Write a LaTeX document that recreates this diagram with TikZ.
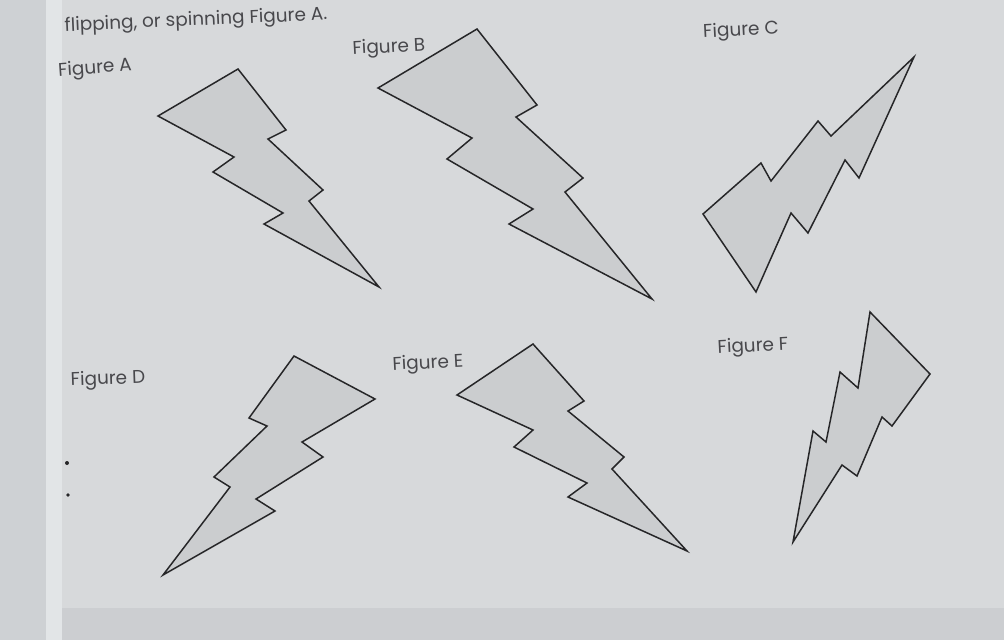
\documentclass[tikz,border=0pt]{standalone}
\usepackage{fontspec}
\setmainfont{Poppins}
\definecolor{paper}{RGB}{215,217,219}
\definecolor{binding}{RGB}{206,209,212}
\definecolor{crease}{RGB}{226,229,231}
\definecolor{bottomtone}{RGB}{204,206,209}
\definecolor{boltfill}{RGB}{203,205,207}
\definecolor{ink}{RGB}{38,38,40}
\definecolor{inktext}{RGB}{72,72,76}
\begin{document}
\begin{tikzpicture}[x=0.02cm,y=-0.02cm,
  bolt/.style={draw=ink,fill=boltfill,line width=0.85pt,line join=miter},
  caption/.style={text=inktext,font=\fontsize{10.5}{12}\selectfont,inner sep=0pt}]
  \useasboundingbox (0,0) rectangle (1004,640);
  % paper
  \fill[paper] (0,0) rectangle (1004,640);
  \fill[binding] (0,0) rectangle (46,640);
  \fill[crease] (46,0) rectangle (62,640);
  \fill[bottomtone] (62,608) rectangle (1004,640);
  \fill[ink] (67,463) circle (2);
  \fill[ink] (68,495) circle (1.8);
  % labels
  \node[caption,rotate=2.5] (intro) at (196,21) {flipping, or spinning Figure A.};
  \node[caption,rotate=4] (la) at (95,69) {Figure A};
  \node[caption,rotate=3] (lb) at (389,48) {Figure B};
  \node[caption,rotate=3] (lc) at (741,31) {Figure C};
  \node[caption,rotate=2] (ld) at (108,380) {Figure D};
  \node[caption,rotate=3] (le) at (428,364) {Figure E};
  \node[caption,rotate=3] (lf) at (753,347) {Figure F};
  % Figure A
  \draw[bolt] (238,69) -- (286,130) -- (268,139) -- (323,190) -- (309,201) -- (379,287)
    -- (264,224) -- (283,213) -- (213,172) -- (234,157) -- (158,116) -- cycle;
  % Figure B
  \draw[bolt] (477,29) -- (537,105) -- (516,117) -- (583,178) -- (565,192) -- (652,299)
    -- (509,224) -- (533,209) -- (447,159) -- (472,138) -- (378,88) -- cycle;
  % Figure C
  \draw[bolt] (914,57) -- (859,178) -- (845,160) -- (808,233) -- (791,213) -- (756,292)
    -- (703,214) -- (761,163) -- (771,181) -- (818,121) -- (831,136) -- cycle;
  % Figure D
  \draw[bolt] (294,356) -- (375,399) -- (302,442) -- (323,457) -- (256,499) -- (275,511)
    -- (163,575) -- (230,487) -- (214,477) -- (267,426) -- (249,418) -- cycle;
  % Figure E
  \draw[bolt] (533,344) -- (584,401) -- (568,411) -- (624,457) -- (612,469) -- (687,551)
    -- (568,497) -- (587,483) -- (514,447) -- (533,430) -- (457,395) -- cycle;
  % Figure F
  \draw[bolt] (870,312) -- (930,374) -- (892,426) -- (882,417) -- (857,476) -- (842,465)
    -- (793,542) -- (813,431) -- (826,442) -- (840,372) -- (858,388) -- cycle;
\end{tikzpicture}
\end{document}
